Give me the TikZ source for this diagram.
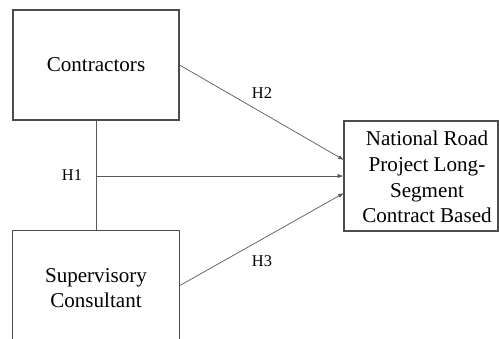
\documentclass[tikz,border=0pt]{standalone}
\usepackage{fontspec}
\setmainfont{Liberation Serif}
\usepackage{tikz}
\usetikzlibrary{calc, arrows.meta}

\tikzset{
    varbox/.style={draw=black!70, line width=0.9pt, inner sep=0pt, align=center,
        font=\fontsize{18}{21.9}\selectfont},
    hlabel/.style={font=\fontsize{14}{16}\selectfont},
    link/.style={draw=black!65, line width=0.6pt},
    arrowlink/.style={link, -{Latex[length=5pt, width=3.6pt]}}
}

\begin{document}
\begin{tikzpicture}[x=0.03cm, y=-0.03cm]
    \useasboundingbox (0,0) rectangle (499,339);

    \node[varbox, minimum width=4.98cm, minimum height=3.3cm] (con) at (96, 65) {Contractors};
    \node[varbox, draw=none, minimum width=4.98cm, minimum height=3.42cm] (sup) at (96, 288)
        {Supervisory\\Consultant};
    \node[varbox, minimum width=4.62cm, minimum height=3.3cm] (nrp) at (421, 176) {};
    \node[varbox, draw=none] (nrptext) at ($(nrp.center)+(6,1)$)
        {National Road\\Project Long-\\Segment\\Contract Based};

    % bottom of the lower box is cut off
    \draw[draw=black!70, line width=0.9pt] (sup.south west) -- (sup.north west)
        -- (sup.north east) -- (sup.south east);

    \coordinate (A) at (96, 176);
    \coordinate (B) at (344, 160);
    \coordinate (C) at (344, 193);
    \coordinate (D) at (179, 286);

    \draw[link] (con.south) -- (sup.north);
    \draw[arrowlink] (A) -- (A -| nrp.west);
    \draw[arrowlink] (con.east) -- (B);
    \draw[arrowlink] (D) -- (C);

    \node[hlabel] (h1) at (72, 175) {H1};
    \node[hlabel] (h2) at (262, 93) {H2};
    \node[hlabel] (h3) at (262, 261) {H3};
\end{tikzpicture}
\end{document}
